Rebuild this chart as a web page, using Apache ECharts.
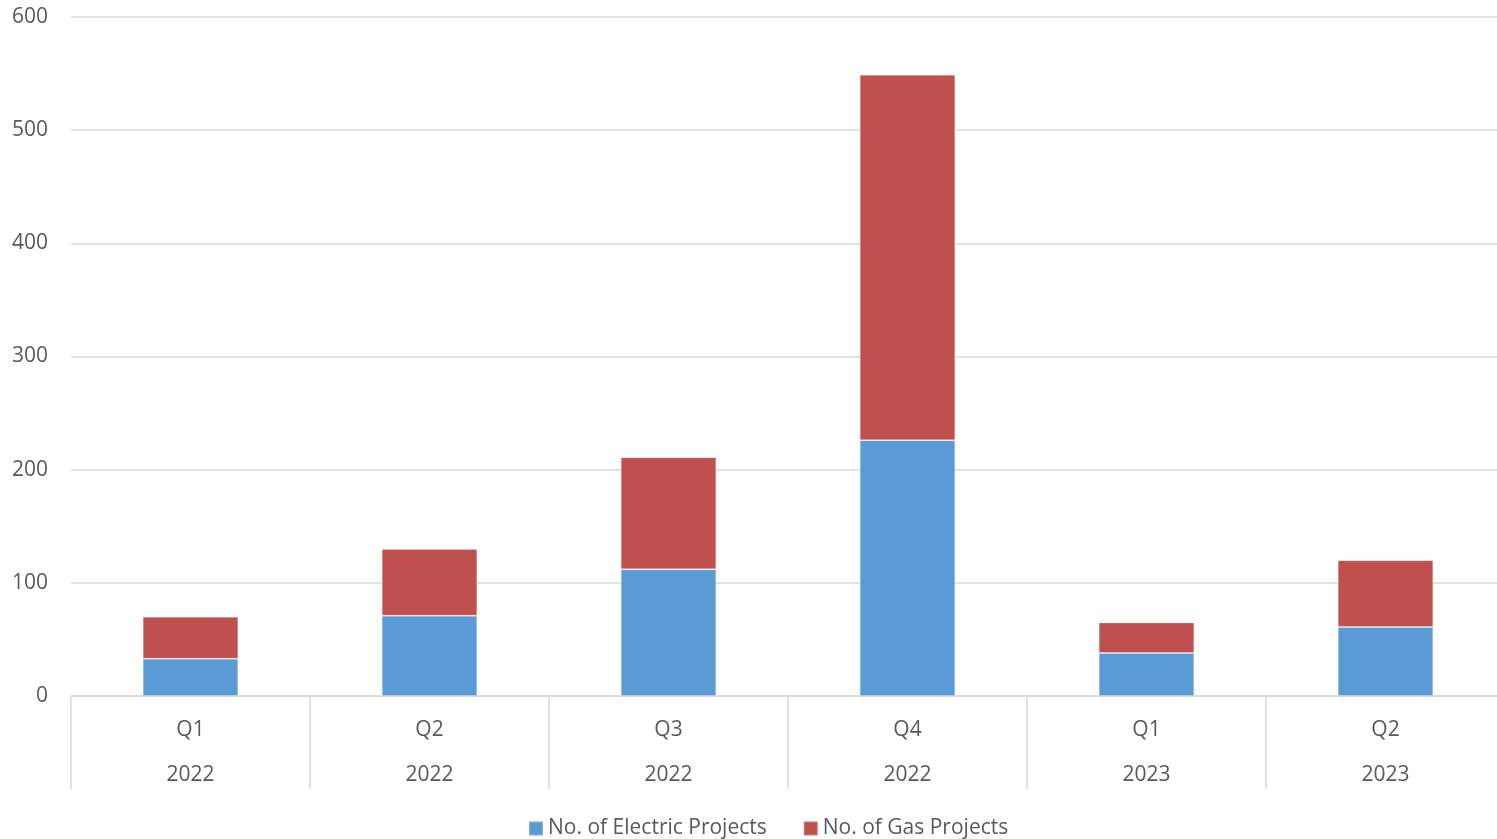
<!DOCTYPE html>
<html>
<head>
<meta charset="utf-8">
<script src="https://cdn.jsdelivr.net/npm/echarts@6/dist/echarts.min.js"></script>
<style>
html,body{margin:0;padding:0;background:#fff;}
#chart{width:1497px;height:839px;}
</style>
</head>
<body>
<div id="chart"></div>
<script>
const quarters = ['Q1', 'Q2', 'Q3', 'Q4', 'Q1', 'Q2'];
const years = ['2022', '2022', '2022', '2022', '2023', '2023'];
const electricProjects = [33, 71, 112, 226, 38, 61];
const gasProjects = [37, 59, 99, 323, 27, 59];
const yTicks = { min: 0, max: 600, interval: 100 };
const seriesNames = ['No. of Electric Projects', 'No. of Gas Projects'];

const categories = quarters.map((q, i) => q + '\n' + years[i]);
const FONT = 'Open Sans';
const TXT = '#595959';

const chart = echarts.init(document.getElementById('chart'));
chart.setOption({
  animation: false,
  textStyle: { fontFamily: FONT },
  grid: { left: 71, width: 1434, top: 17, height: 679, outerBoundsMode: 'none' },
  legend: {
    top: 813,
    left: 523,
    itemWidth: 14,
    itemHeight: 14,
    itemGap: 36,
    icon: 'rect',
    textStyle: { color: TXT, fontSize: 21, fontFamily: FONT },
    data: seriesNames
  },
  xAxis: {
    type: 'category',
    data: categories,
    axisLine: { lineStyle: { color: '#D9D9D9', width: 1.5 } },
    axisTick: { show: true, length: 93, lineStyle: { color: '#D9D9D9', width: 1.5 } },
    axisLabel: { color: TXT, fontSize: 21, lineHeight: 45, margin: 12, interval: 0 }
  },
  yAxis: {
    type: 'value',
    min: yTicks.min, max: yTicks.max, interval: yTicks.interval,
    axisLine: { show: false },
    axisTick: { show: false },
    axisLabel: { color: TXT, fontSize: 21, margin: 23 },
    splitLine: { lineStyle: { color: '#D9D9D9', width: 1.5 } }
  },
  series: [
    {
      name: seriesNames[0], type: 'bar', stack: 'total',
      data: electricProjects, barWidth: '40%',
      itemStyle: { color: '#5B9BD5', borderColor: 'rgba(255,255,255,0.25)', borderWidth: 1 }
    },
    {
      name: seriesNames[1], type: 'bar', stack: 'total',
      data: gasProjects, barWidth: '40%',
      itemStyle: { color: '#C0504D', borderColor: 'rgba(255,255,255,0.25)', borderWidth: 1 }
    }
  ]
});
</script>
</body>
</html>
